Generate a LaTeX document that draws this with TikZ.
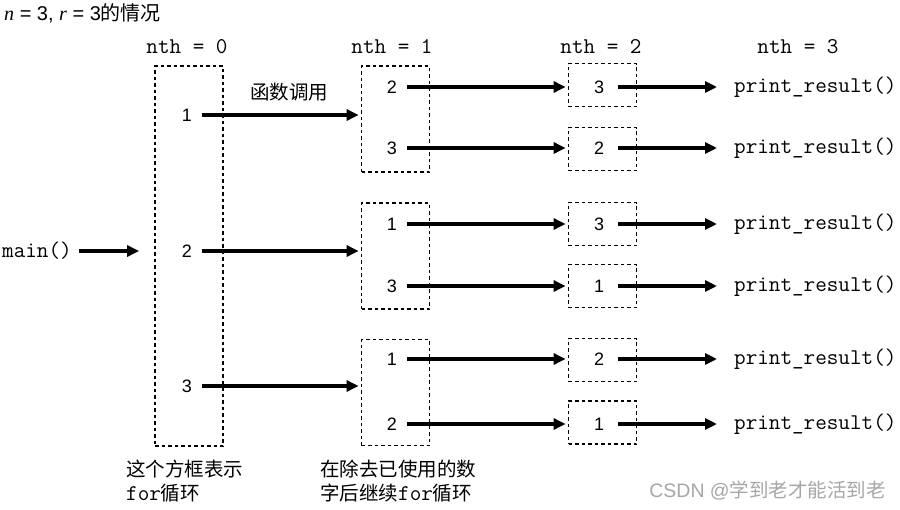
\documentclass[tikz,border=0pt]{standalone}
\usepackage{fontspec}
\setmainfont{Liberation Sans}
\newfontfamily\cjk{Noto Sans CJK SC}
\newfontfamily\serifit{Liberation Serif}
\usetikzlibrary{arrows.meta,positioning}

\begin{document}
\begin{tikzpicture}[x=1pt, y=-1pt,
    font=\fontsize{18}{22}\selectfont,
    loopbox/.style={draw, dash pattern=on 3.5pt off 3pt, line width=1.8pt,
                    minimum width=68pt, inner sep=0pt},
    num/.style={inner xsep=10pt, inner ysep=2pt},
    code/.style={font=\fontsize{22.5}{24}\selectfont\ttfamily, inner sep=0pt},
    note/.style={font=\fontsize{19.5}{24}\selectfont\cjk, align=left, inner sep=0pt},
    arr/.style={-{Triangle[length=12pt, width=11pt]}, line width=3.5pt}]
    \useasboundingbox (0,0) rectangle (900,509);
    \node[anchor=west, inner sep=0pt, font=\fontsize{20}{22}\selectfont] (title) at (4,13)
        {{\serifit\itshape n} = 3, {\serifit\itshape r} = 3{\cjk 的情况}};
    % column headers
    \node[code] (h0) at (187,47) {nth = 0};
    \node[code] (h1) at (392,47) {nth = 1};
    \node[code] (h2) at (601,47) {nth = 2};
    \node[code] (h3) at (798,47) {nth = 3};
    % for loops
    \node[loopbox, minimum height=380pt] (b0) at (189,256) {};
    \node[loopbox, minimum height=106pt] (b1a) at (395.5,119) {};
    \node[loopbox, minimum height=106pt] (b1b) at (395.5,256) {};
    \node[loopbox, minimum height=106pt] (b1c) at (395.5,392.5) {};
    \node[loopbox, minimum height=43pt] (b2a) at (602.5,85) {};
    \node[loopbox, minimum height=43pt] (b2b) at (602.5,149) {};
    \node[loopbox, minimum height=43pt] (b2c) at (602.5,224) {};
    \node[loopbox, minimum height=43pt] (b2d) at (602.5,286) {};
    \node[loopbox, minimum height=43pt] (b2e) at (602.5,360) {};
    \node[loopbox, minimum height=43pt] (b2f) at (602.5,422.5) {};
    % numbers
    \node[num] (n0a) at (187,115) {1};
    \node[num] (n0b) at (187,251) {2};
    \node[num] (n0c) at (187,386) {3};
    \node[num] (n1a) at (392,87) {2};
    \node[num] (n1b) at (392,148) {3};
    \node[num] (n1c) at (392,224) {1};
    \node[num] (n1d) at (392,286) {3};
    \node[num] (n1e) at (392,359) {1};
    \node[num] (n1f) at (392,424) {2};
    \node[num, inner xsep=14pt] (n2a) at (599,87) {3};
    \node[num, inner xsep=14pt] (n2b) at (599,148) {2};
    \node[num, inner xsep=14pt] (n2c) at (599,224) {3};
    \node[num, inner xsep=14pt] (n2d) at (599,286) {1};
    \node[num, inner xsep=14pt] (n2e) at (599,359) {2};
    \node[num, inner xsep=14pt] (n2f) at (599,424) {1};
    % calls
    \node[code, anchor=west] (main) at (2,251) {main()};
    \node[code, anchor=west] (p1) at (734,87) {print\_result()};
    \node[code, anchor=west] (p2) at (734,148) {print\_result()};
    \node[code, anchor=west] (p3) at (734,224) {print\_result()};
    \node[code, anchor=west] (p4) at (734,286) {print\_result()};
    \node[code, anchor=west] (p5) at (734,359) {print\_result()};
    \node[code, anchor=west] (p6) at (734,424) {print\_result()};
    \draw[arr, shorten <=7pt, shorten >=15pt] (main.east) -- (main.east -| b0.west);
    \draw[arr, shorten >=2pt] (n0a) -- (n0a -| b1a.west);
    \draw[arr, shorten >=2pt] (n0b) -- (n0b -| b1b.west);
    \draw[arr, shorten >=2pt] (n0c) -- (n0c -| b1c.west);
    \draw[arr, shorten >=2pt] (n1a) -- (n1a -| b2a.west);
    \draw[arr, shorten >=2pt] (n1b) -- (n1b -| b2b.west);
    \draw[arr, shorten >=2pt] (n1c) -- (n1c -| b2c.west);
    \draw[arr, shorten >=2pt] (n1d) -- (n1d -| b2d.west);
    \draw[arr, shorten >=2pt] (n1e) -- (n1e -| b2e.west);
    \draw[arr, shorten >=2pt] (n1f) -- (n1f -| b2f.west);
    \draw[arr, shorten >=17pt] (n2a) -- (p1);
    \draw[arr, shorten >=17pt] (n2b) -- (p2);
    \draw[arr, shorten >=17pt] (n2c) -- (p3);
    \draw[arr, shorten >=17pt] (n2d) -- (p4);
    \draw[arr, shorten >=17pt] (n2e) -- (p5);
    \draw[arr, shorten >=17pt] (n2f) -- (p6);
    \node[note] (call) at (289,92) {函数调用};
    % notes under the boxes
    \node[note, anchor=west] (note0) at (126,481)
        {这个方框表示\\{\fontsize{22.5}{24}\selectfont\ttfamily for}循环};
    \node[note, anchor=west] (note1) at (320,481)
        {在除去已使用的数\\字后继续{\fontsize{22.5}{24}\selectfont\ttfamily for}循环};
    \node[note, anchor=east, text=black!35] (mark) at (886,491)
        {{\fontspec{Liberation Sans}CSDN @}学到老才能活到老};
\end{tikzpicture}
\end{document}
